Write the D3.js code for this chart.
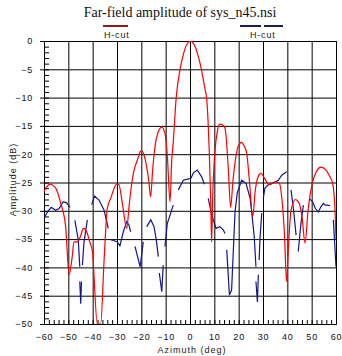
<!DOCTYPE html>
<html>
<head>
<meta charset="utf-8">
<script src="https://cdn.jsdelivr.net/npm/d3@7"></script>
<style>
  body { margin: 0; background: #fff; }
  .tick text { font-family: "Liberation Sans", Arial, sans-serif; font-size: 9px; letter-spacing: 0.8px; fill: #111; }
</style>
</head>
<body>
<script>
// red cut (azimuth in deg, amplitude in dB)
var redAz = [-60, -59, -57.3, -56.2, -55.2, -53.1, -51.1, -49.7, -48.4, -47.7, -46.3, -45, -43.8, -42.2, -41.2, -40.1,
  -38.1, -36.7, -35.3, -34, -32.6, -30.1, -29.2, -27.8, -26, -25, -24.1, -22.8, -21.6, -20.5, -19.9, -19.2, -18, -17,
  -16.2, -15.3, -14.4, -13, -11.6, -10.3, -9.3, -8.2, -7.5, -6.9, -6.3, -5.75, -5, -4, -3, -2, -1, 0, 0.5, 1, 2, 3, 4,
  5, 6, 6.9, 7.4, 7.9, 8.5, 8.9, 9.3, 10.3, 11.2, 12.3, 13.3, 14.4, 15.7, 16.7, 17.6, 18.5, 19.5, 20.5, 21.2, 22.3,
  23.3, 24.4, 25.8, 26.8, 28, 29.2, 30.5, 32.6, 35.1, 36.7, 37.8, 38.8, 39.7, 40.5, 41.5, 43.3, 44.9, 46, 47.3, 48.5,
  50.4, 52, 53.8, 55.9, 57.5, 58.6, 59.5, 60];
var redDb = [-26.6, -25.8, -25.3, -25.6, -26, -28.7, -32.8, -41.3, -38.1, -35.5, -35.5, -34.5, -33.1, -34, -35.5, -37.2,
  -50, -50, -38.7, -29.6, -27.8, -25.3, -25.4, -28.7, -33.1, -29, -25.7, -22.5, -21, -19.6, -19.4, -19.8, -21.8, -24.5,
  -27.5, -22.5, -18.7, -16, -15.2, -16.3, -20.4, -28.4, -21, -18, -14, -10.4, -7.5, -4.8, -2.8, -1.3, -0.4, -0.05, 0,
  -0.2, -0.9, -2.1, -3.7, -5.7, -8.1, -10.4, -14, -19.3, -28, -35.5, -28, -19.3, -16, -14.7, -14.8, -15.4, -22.2, -29.4,
  -25, -21.5, -19, -18.1, -17.9, -18.6, -19.8, -24.6, -31, -26.5, -24, -23.4, -24.2, -25.4, -24.9, -25.1, -28, -34,
  -42.5, -36, -30, -28, -28.7, -31, -35.7, -30, -24.9, -23, -22.3, -22.8, -24, -25.1, -29, -35];

// blue cut, null = gap in the trace
var blueAz = [-60, -58.6, -57, -55.2, -53.8, -52.1, -50.7, -49.3, null,
  -47.3, -45.9, -45.3, null, -45.3, -44.9, -44.6, null, -44.2, -43.6, -42.2, null,
  -40.4, -39.2, -37.4, -35.3, -33.6, null,
  -32.5, -31.2, -29.9, -28.8, -27.4, -26, -25.1, -24.4, null,
  -22.6, -21.5, -20.5, -19.2, null,
  -17.8, -16.1, -14.8, -13.9, -13, null, -12.6, -11.6, -11, null,
  -10.3, -9.3, -8, -6.9, null,
  -4.8, -2.75, -1, 0.3, 1.4, 3, 4.8, 5.9, null,
  7.5, 8.9, 10.7, 12.3, 13.7, 14.4, null,
  15.1, 16.2, 17.1, 18.5, 19.4, 21.2, 23, 24.7, 25.4, 26.4, 27.1, null,
  27.1, 27.7, 28.1, null, 28.4, 28.8, 29.5, null,
  30.1, 30.8, 32.2, 34.2, 36.3, 37.7, 39.7, null,
  41.5, 42.5, 43.6, null, 44.5, 45.6, 46.6, null,
  49, 50.4, 51.5, 52.7, 53.8, 54.8, 55.6, 56.6, 57.5, null,
  58.9, 60];
var blueDb = [-31.3, -30.2, -29.4, -29.9, -29.6, -28.4, -28.6, -29.4, null,
  -31.7, -35.2, -39.9, null, -42.5, -46.4, -42.5, null, -39.6, -35.7, -31.6, null,
  -28.9, -27.4, -28.1, -29.9, -33.1, null,
  -35.1, -35.3, -35.5, -36.2, -33.7, -31.9, -32.5, -33.7, null,
  -36.3, -38.2, -39.9, -35.5, null,
  -32.8, -31.6, -32.8, -35, -38.1, null, -41, -44.3, -39.6, null,
  -36.3, -32.2, -30.5, -29, null,
  -26.3, -24.6, -24.4, -24.3, -23.3, -22.8, -24, -25.3, null,
  -27.8, -30.7, -33.1, -32.8, -33.4, -34, null,
  -36.9, -44.9, -44, -30.2, -26.9, -24.6, -25.1, -27.8, -30.4, -34.6, -39.9, null,
  -42.5, -46.1, -41.3, null, -38.7, -34.6, -30.4, null,
  -27.8, -26, -25.4, -25.1, -24.6, -23.7, -23.1, null,
  -26.3, -29.6, -34.3, null, -37.2, -32.2, -29, null,
  -27.8, -28.4, -29.6, -30.2, -29.3, -28.7, -29, -29, -29.1, null,
  -31.6, -39.9];

var xTicks = [-60, -50, -40, -30, -20, -10, 0, 10, 20, 30, 40, 50, 60];
var yTicks = [0, -5, -10, -15, -20, -25, -30, -35, -40, -45, -50];

var redColor = "#ff0000", blueColor = "#14148c";

// canvas
var margin = {top: 41, right: 6, bottom: 32, left: 44},
    width = 342 - margin.left - margin.right,
    height = 356 - margin.top - margin.bottom;

var x = d3.scaleLinear().domain([-60, 60]).range([0, width]);
var y = d3.scaleLinear().domain([-50, 0]).range([height, 0]);

var root = d3.select("body").append("svg")
    .attr("width", 342)
    .attr("height", 356);

var svg = root.append("g")
    .attr("transform", "translate(" + margin.left + "," + margin.top + ")");

// title
root.append("text")
    .attr("x", 180)
    .attr("y", 17)
    .attr("text-anchor", "middle")
    .style("font-family", "'Liberation Serif', 'Times New Roman', serif")
    .style("font-size", "14px")
    .style("fill", "#111")
    .text("Far-field amplitude of sys_n45.nsi");

// legend
var legend = root.append("g");
legend.append("line")
    .attr("x1", 103).attr("x2", 128).attr("y1", 26).attr("y2", 26)
    .style("stroke", "#8c1c1c").style("stroke-width", 2);
legend.append("line")
    .attr("x1", 240).attr("x2", 261).attr("y1", 26).attr("y2", 26)
    .style("stroke", "#1c1c5c").style("stroke-width", 2);
legend.append("line")
    .attr("x1", 264).attr("x2", 283).attr("y1", 26).attr("y2", 26)
    .style("stroke", "#1c1c5c").style("stroke-width", 2);
[104, 250].forEach(function(lx) {
  legend.append("text")
      .attr("x", lx)
      .attr("y", 38)
      .style("font-family", "'Liberation Sans', Arial, sans-serif")
      .style("font-size", "9px")
      .style("letter-spacing", "0.8px")
      .style("fill", "#222")
      .text("H-cut");
});

// grid
svg.append("g")
    .attr("class", "grid")
    .attr("transform", "translate(0," + height + ")")
    .call(d3.axisBottom(x).tickValues(xTicks).tickSize(-height).tickFormat(""))
    .call(function(g) { g.select(".domain").remove(); });
svg.append("g")
    .attr("class", "grid")
    .call(d3.axisLeft(y).tickValues(yTicks).tickSize(-width).tickFormat(""))
    .call(function(g) { g.select(".domain").remove(); });
svg.selectAll(".grid line").style("stroke", "#000").style("stroke-width", 1);

// minor ticks (inside)
svg.append("g")
    .attr("class", "minor")
    .call(d3.axisRight(y).tickValues(d3.range(-50, 1, 1)).tickSize(5).tickFormat(""));
svg.append("g")
    .attr("class", "minor")
    .attr("transform", "translate(0," + height + ")")
    .call(d3.axisTop(x).tickValues(d3.range(-60, 61, 2)).tickSize(4).tickFormat(""));

// axes with labels
svg.append("g")
    .attr("class", "y axis")
    .call(d3.axisLeft(y).tickValues(yTicks).tickSize(4).tickPadding(7).tickFormat(d3.format("d")));
svg.append("g")
    .attr("class", "x axis")
    .attr("transform", "translate(0," + height + ")")
    .call(d3.axisBottom(x).tickValues(xTicks).tickSize(0).tickPadding(10).tickFormat(d3.format("d")));
svg.selectAll(".axis .domain, .minor .domain, .axis line, .minor line").style("stroke", "#000");

// axis titles
svg.append("text")
    .attr("x", width / 2 + 2)
    .attr("y", height + 29)
    .attr("text-anchor", "middle")
    .style("font-family", "'Liberation Sans', Arial, sans-serif")
    .style("font-size", "9px")
    .style("letter-spacing", "1px")
    .style("fill", "#222")
    .text("Azimuth (deg)");
svg.append("text")
    .attr("transform", "translate(" + (-28) + "," + (height / 2 - 3) + ") rotate(-90)")
    .attr("text-anchor", "middle")
    .style("font-family", "'Liberation Sans', Arial, sans-serif")
    .style("font-size", "9px")
    .style("letter-spacing", "1px")
    .style("fill", "#222")
    .text("Amplitude (dB)");

// curves
svg.append("clipPath").attr("id", "clip")
  .append("rect").attr("x", 0).attr("y", 0).attr("width", width).attr("height", height);

var redData = redAz.map(function(a, i) { return [a, redDb[i]]; });
var blueData = blueAz.map(function(a, i) { return [a, blueDb[i]]; });

var line = d3.line()
    .defined(function(d) { return d[0] !== null && d[1] !== null; })
    .x(function(d) { return x(d[0]); })
    .y(function(d) { return y(d[1]); })
    .curve(d3.curveMonotoneX);

svg.append("path")
    .datum(blueData)
    .attr("clip-path", "url(#clip)")
    .attr("d", d3.line()
      .defined(function(d) { return d[0] !== null; })
      .x(function(d) { return x(d[0]); })
      .y(function(d) { return y(d[1]); }))
    .style("fill", "none")
    .style("stroke", blueColor)
    .style("stroke-width", 1.2);

svg.append("path")
    .datum(redData)
    .attr("clip-path", "url(#clip)")
    .attr("d", line)
    .style("fill", "none")
    .style("stroke", redColor)
    .style("stroke-width", 1.2);
</script>
</body>
</html>
